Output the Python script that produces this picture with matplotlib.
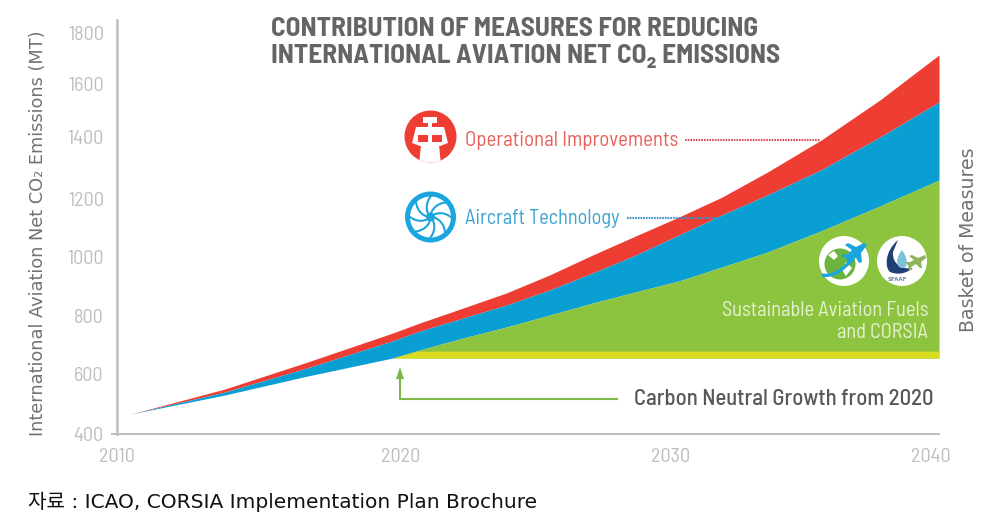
import numpy as np
import matplotlib
matplotlib.use("Agg")
import matplotlib.pyplot as plt
import matplotlib.transforms as mtransforms
from matplotlib.patches import Circle, Polygon, Rectangle, PathPatch
from matplotlib.path import Path

DIN = ['Barlow Semi Condensed', 'Roboto', 'DejaVu Sans']

# ---------- data ----------
years = [2010.5, 2013.8, 2016.7, 2019.7, 2020.7, 2022.3, 2023.9, 2025.5, 2027.1, 2028.7, 2030.3, 2031.9, 2033.6, 2035.6, 2037.8, 2040.0]
total_top = [467, 550, 641, 741, 776, 827, 878, 939, 1007, 1073, 1138, 1206, 1287, 1390, 1540, 1714]
after_ops = [467, 540, 621, 714, 748, 793, 837, 888, 946, 1007, 1076, 1145, 1213, 1294, 1400, 1532]
after_tech = [467, 530, 593, 655, 683, 724, 762, 803, 844, 882, 919, 966, 1017, 1090, 1176, 1261]
green_years = [2019.7, 2020.7, 2022.3, 2023.9, 2025.5, 2027.1, 2028.7, 2030.3, 2031.9, 2033.6, 2035.6, 2037.8, 2040.0]
green_top = [655, 683, 724, 762, 803, 844, 882, 919, 966, 1017, 1090, 1176, 1261]
neutral_level = 655
yellow_years = [2019.7, 2020.6, 2040.0]
yellow_top = [655, 679, 679]
y_ticks = [400, 600, 800, 1000, 1200, 1400, 1600, 1800]
x_ticks = [2010, 2020, 2030, 2040]
title = "CONTRIBUTION OF MEASURES FOR REDUCING\nINTERNATIONAL AVIATION NET CO\u2082 EMISSIONS"
y_label = "International Aviation Net CO\u2082 Emissions (MT)"
right_label = "Basket of Measures"
source = "자료 : ICAO, CORSIA Implementation Plan Brochure"

# The printed axes are not evenly spaced: these are the tick places in the picture
y_scale_vals = [400, 600, 800, 1000, 1200, 1400, 1600, 1800, 1851]
y_scale_pos = [0, 60, 118, 177, 235, 297, 350, 401, 414]
x_scale_vals = [2010, 2020, 2030, 2040]
x_scale_pos = [0, 284, 554, 822]

RED, BLUE, GREEN, YELLOW = '#EE3E33', '#0A9FD3', '#8CC33F', '#D9DC1E'
AXIS, TICK = '#BDBDC2', '#BEBEC2'

W, H = 1001, 525
fig = plt.figure(figsize=(W / 100, H / 100), dpi=100, facecolor='white')
ax = fig.add_axes([117 / W, 1 - 434 / H, 822 / W, 414 / H])

ax.set_yscale('function', functions=(lambda v: np.interp(v, y_scale_vals, y_scale_pos),
                                     lambda p: np.interp(p, y_scale_pos, y_scale_vals)))
ax.set_xscale('function', functions=(lambda v: np.interp(v, x_scale_vals, x_scale_pos),
                                     lambda p: np.interp(p, x_scale_pos, x_scale_vals)))
ax.set_xlim(2010, 2040)
ax.set_ylim(400, 1851)

ax.fill_between(years, after_ops, total_top, color=RED, lw=0)
ax.fill_between(years, after_tech, after_ops, color=BLUE, lw=0)
ax.fill_between(green_years, neutral_level, green_top, color=GREEN, lw=0)
ax.fill_between(yellow_years, neutral_level, yellow_top, color=YELLOW, lw=0)

for s in ('top', 'right'):
    ax.spines[s].set_visible(False)
ax.spines['left'].set(color=AXIS, lw=1.8)
ax.spines['bottom'].set(color=AXIS, lw=1.4)
ax.set_yticks(y_ticks)
ax.set_xticks(x_ticks)
ax.minorticks_off()
ax.set_yticklabels([str(v) for v in y_ticks], family=DIN, fontsize=14.5, color=TICK)
ax.set_xticklabels([str(v) for v in x_ticks], family=DIN, fontsize=14.5, color=TICK)
ax.tick_params(axis='both', length=0, colors=TICK)
ax.tick_params(axis='y', pad=9.5)
ax.tick_params(axis='x', pad=10)
first = ax.yaxis.get_major_ticks()[0]
first.tick1line.set_markersize(4)
first.tick1line.set_markeredgecolor(AXIS)
first.tick1line.set_markeredgewidth(1.4)
# the 2040 label sits left of the end of the axis
lab = ax.get_xticklabels()[-1]
lab.set_transform(lab.get_transform() + mtransforms.ScaledTranslation(-8 / 100, 0, fig.dpi_scale_trans))

ax.set_title(title, loc='left', x=(271 - 117) / 822, y=(434 - 63) / 414, pad=0, family=DIN,
             fontsize=19.6, fontweight='bold', color='#636567', linespacing=1.17)

# ---------- overlay in picture coordinates: callouts, icons, labels ----------
ov = fig.add_axes([0, 0, 1, 1], zorder=5)
ov.set_xlim(0, W)
ov.set_ylim(H, 0)
ov.axis('off')
ov.patch.set_alpha(0)

ov.text(38, 233, y_label, rotation=90, ha='center', va='center', fontsize=12.8, color='#707274',
        family='DejaVu Sans')
ov.text(968, 240, right_label, rotation=90, ha='center', va='center', fontsize=13.6, color='#707274',
        family='DejaVu Sans')
ov.text(28, 502, source, ha='left', va='center', fontsize=14.5, color='#111111',
        family=['DejaVu Sans', 'Noto Sans CJK KR'])

ov.text(465, 141, "Operational Improvements", ha='left', va='center', family=DIN, fontsize=14.9, color='#E9605A')
ov.text(465, 218, "Aircraft Technology", ha='left', va='center', family=DIN, fontsize=14.7, color='#3DA3D3')
ov.plot([685, 820], [140, 140], color='#D9505A', lw=1.5, ls=(0, (0.8, 0.5)))
ov.plot([627, 717], [218, 218], color='#3C8FC8', lw=1.5, ls=(0, (0.8, 0.5)))
ov.text(634, 399, "Carbon Neutral Growth from 2020", ha='left', va='center', family=DIN, fontsize=16.3,
        fontweight='medium', color='#55595C')
ov.text(928, 310, "Sustainable Aviation Fuels", ha='right', va='center', family=DIN, fontsize=14.7, color='#E6F1CF')
ov.text(928, 332, "and CORSIA", ha='right', va='center', family=DIN, fontsize=14.7, color='#E6F1CF')

# arrow
ov.plot([617, 400, 400], [399, 399, 376], color='#7DB94A', lw=1.5, solid_joinstyle='miter')
ov.add_patch(Polygon([(400, 367), (396, 379), (404, 379)], color='#7DB94A', lw=0))

# tower icon
c = (430.5, 136.5)
ov.add_patch(Circle(c, 26, color=RED, lw=0))
clip = Circle(c, 26, transform=ov.transData)
tower = [Rectangle((423, 117), 14, 6, color='white', lw=0),
         Rectangle((428, 123), 4, 5, color='white', lw=0),
         Polygon([(416, 127), (444, 127), (448, 143), (440, 146), (420, 146), (412, 143)], color='white', lw=0),
         Polygon([(421, 145), (439, 145), (441, 165), (419, 165)], color='white', lw=0)]
for p in tower:
    ov.add_patch(p)
    p.set_clip_path(clip)
ov.add_patch(Rectangle((418, 135), 10, 7, color=RED, lw=0))
ov.add_patch(Rectangle((432, 135), 10, 7, color=RED, lw=0))

# fan icon
c = (430.5, 217)
ov.add_patch(Circle(c, 25.5, color='#1BA5DE', lw=0))
ov.add_patch(Circle(c, 20.5, color='white', lw=0))
t = np.linspace(0, 1, 12)
for a in np.deg2rad(np.arange(0, 360, 45) + 12):
    r = 5 + 16 * t
    th = a + 0.6 * t
    ov.plot(c[0] + r * np.cos(th), c[1] + r * np.sin(th), color='#1BA5DE', lw=1.5)
ov.add_patch(Circle(c, 4.5, color='#1BA5DE', lw=0))

# globe badge
c = (844, 261)
ov.add_patch(Circle(c, 25, color='white', lw=0))
ov.add_patch(Circle((840, 264), 15.5, color='#6DB33F', lw=0))
ov.add_patch(Polygon([(828, 255), (834, 251), (838, 256), (834, 260)], color='white', lw=0))
ov.add_patch(Polygon([(846, 262), (852, 268), (846, 276), (842, 270)], color='white', lw=0))
ov.add_patch(PathPatch(Path([(822, 275), (838, 278), (850, 262), (862, 248)],
                            [Path.MOVETO, Path.CURVE4, Path.CURVE4, Path.CURVE4]),
                       fc='none', ec='#1BA5DE', lw=2.4))
ov.add_patch(Polygon([(864, 243), (867, 245), (861, 253), (862, 262), (859, 263), (855, 256), (850, 261),
                      (851, 264), (848, 264), (846, 258), (841, 256), (843, 254), (847, 255), (852, 250),
                      (845, 245), (848, 243), (856, 247)], color='#1BA5DE', lw=0))

# fuel badge
c = (902, 261)
ov.add_patch(Circle(c, 25, color='white', lw=0))
ov.add_patch(PathPatch(Path([(898, 240), (884, 252), (885, 268), (890, 272), (900, 276), (908, 272), (913, 268),
                             (902, 270), (892, 264), (893, 252), (898, 240)],
                            [Path.MOVETO] + [Path.CURVE4] * 9 + [Path.LINETO]), fc='#1F3F75', ec='none'))
ov.add_patch(PathPatch(Path([(902, 250), (894, 260), (897, 268), (902, 268), (908, 268), (909, 260), (902, 250)],
                            [Path.MOVETO] + [Path.CURVE4] * 6), fc='#7CC2DE', ec='none'))
ov.add_patch(Polygon([(925, 255), (926, 258), (921, 262), (922, 268), (920, 268), (916, 264), (911, 267), (912, 270),
                      (909, 270), (908, 265), (905, 262), (910, 262), (914, 260), (909, 256), (912, 255), (918, 258)],
                     color='#8DB35B', lw=0))
ov.text(897.5, 279.5, "SFAAF", ha='center', va='center', fontsize=4, fontweight='bold', color='#6E86A6')

fig.savefig('out.png', dpi=100, facecolor='white')
